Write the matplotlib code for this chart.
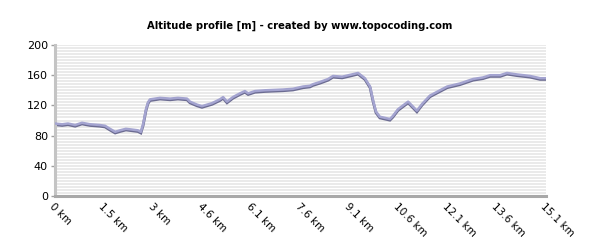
import matplotlib
matplotlib.use("Agg")
import matplotlib.pyplot as plt
import matplotlib.transforms as mtransforms
import numpy as np

dist_km = [0.00, 0.22, 0.40, 0.62, 0.83, 1.08, 1.38, 1.54, 1.69, 1.85, 2.00, 2.18, 2.37, 2.55,
           2.64, 2.71, 2.80, 2.86, 2.92, 3.23, 3.54, 3.78, 4.06, 4.15, 4.37, 4.52, 4.83, 5.07,
           5.17, 5.29, 5.47, 5.69, 5.84, 5.94, 6.15, 6.46, 7.01, 7.32, 7.63, 7.84, 7.93, 8.15,
           8.40, 8.55, 8.83, 9.13, 9.32, 9.53, 9.69, 9.78, 9.87, 9.99, 10.30, 10.39, 10.55,
           10.86, 11.13, 11.29, 11.53, 11.75, 12.06, 12.45, 12.86, 13.16, 13.38, 13.69, 13.90,
           14.21, 14.61, 14.92, 15.10]
altitude_m = [96, 95, 96, 94, 97, 95, 94, 93, 89, 85, 87, 89, 88, 87,
              85, 95, 115, 124, 128, 130, 129, 130, 129, 125, 121, 119, 123, 128,
              131, 125, 131, 136, 139, 136, 139, 140, 141, 142, 145, 146, 148, 151,
              155, 159, 158, 161, 163, 156, 145, 127, 112, 105, 102, 106, 115,
              125, 113, 122, 133, 138, 145, 149, 155, 157, 160, 160, 163,
              161, 159, 156, 156]

x_tick_vals = [0, 1.51, 3.02, 4.53, 6.04, 7.55, 9.06, 10.57, 12.08, 13.59, 15.1]
x_tick_labels = ["0 km", "1.5 km", "3 km", "4.6 km", "6.1 km", "7.6 km", "9.1 km",
                 "10.6 km", "12.1 km", "13.6 km", "15.1 km"]
y_ticks = [0, 40, 80, 120, 160, 200]

fig = plt.figure(figsize=(6, 2.5), dpi=100)
ax = fig.add_axes([55/600, 54/250, 491/600, 151/250])

for yv in np.arange(0, 201, 4):
    ax.axhline(yv, color="#e4e4e4", linewidth=1.1, zorder=0)

shift = mtransforms.ScaledTranslation(0, -1.2/100, fig.dpi_scale_trans)
ax.plot(dist_km, altitude_m, color="#6c6c92", linewidth=2.0,
        transform=ax.transData + shift, zorder=2, solid_joinstyle="miter")
ax.plot(dist_km, altitude_m, color="#a4a4d0", linewidth=1.8, zorder=3)

ax.set_xlim(0, 15.1)
ax.set_ylim(0, 200)
ax.set_yticks(y_ticks)
ax.set_yticklabels([str(v) for v in y_ticks], fontsize=8)
ax.set_xticks(x_tick_vals)
ax.set_xticklabels(x_tick_labels, fontsize=7.5, rotation=-45, ha="left", va="top",
                   rotation_mode="anchor")
ax.tick_params(axis="y", length=3, color="#a0a0a0", width=1, pad=2)
ax.tick_params(axis="x", length=0, pad=4)

for s in ["top", "right"]:
    ax.spines[s].set_visible(False)
ax.spines["left"].set_color("#c4c4c4")
ax.spines["left"].set_linewidth(2.2)
ax.spines["bottom"].set_color("#a8a8a8")
ax.spines["bottom"].set_linewidth(2.2)

fig.text(0.5, 0.898, "Altitude profile [m] - created by www.topocoding.com",
         ha="center", va="center", fontsize=7.2, fontweight="bold")

fig.savefig("out.png", dpi=100)
